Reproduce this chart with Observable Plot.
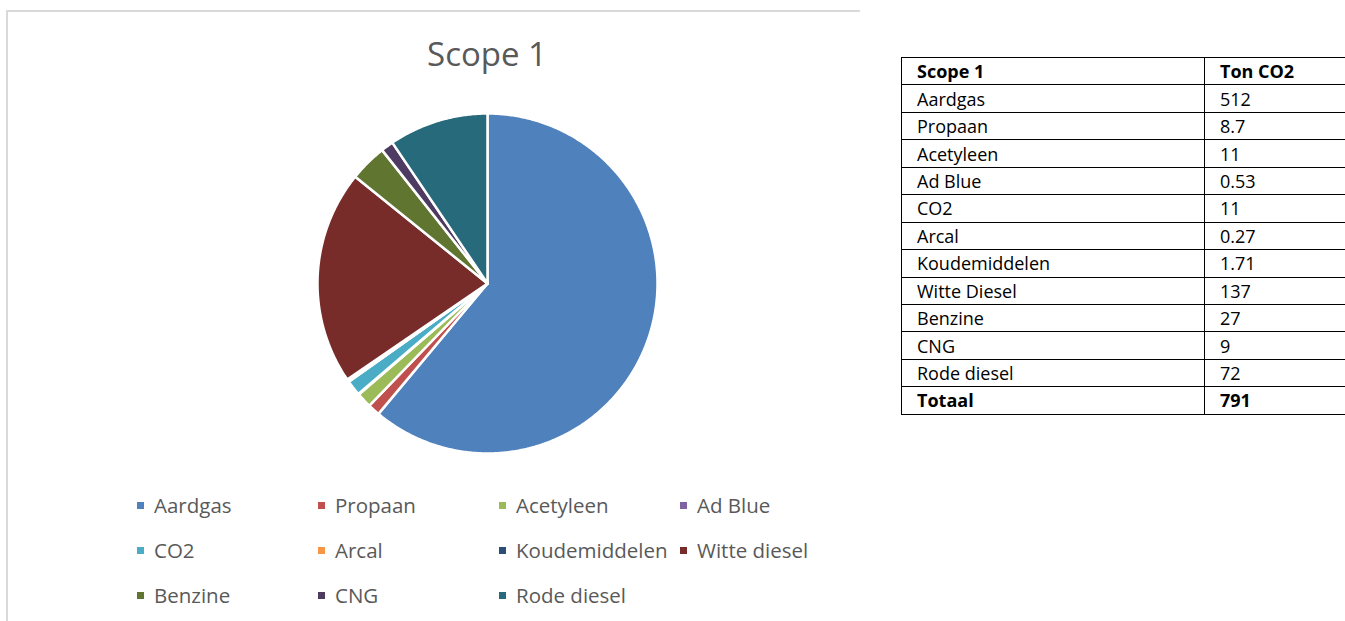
<!DOCTYPE html>
<html>
<head>
<meta charset="utf-8">
<script src="https://cdn.jsdelivr.net/npm/d3@7"></script>
<script src="https://cdn.jsdelivr.net/npm/@observablehq/plot@0.6"></script>
<style>
html, body { margin: 0; padding: 0; background: #fff; overflow: hidden; }
#page { position: relative; width: 1345px; height: 621px; overflow: hidden; font-family: "Open Sans", sans-serif; }
#frame { position: absolute; left: 6px; top: 10px; width: 852px; height: 640px; border-top: 2px solid #d9d9d9; border-left: 2px solid #d9d9d9; }
#title { position: absolute; left: 287px; width: 400px; top: 37px; text-align: center; font-size: 33px; line-height: 33px; color: #595959; }
#pie { position: absolute; left: 307px; top: 103px; }
.lg { position: absolute; font-size: 20.5px; line-height: 20.5px; color: #595959; white-space: nowrap; }
.sw { position: absolute; width: 7px; height: 7px; }
#tbl { position: absolute; left: 901px; top: 57px; width: 473px; border-collapse: collapse; font-size: 18px; color: #000; table-layout: fixed; }
#tbl td { border: 1.5px solid #000; height: 26.45px; padding: 0 0 0 15px; line-height: 18px; vertical-align: middle; white-space: nowrap; }
#tbl tr.b td { font-weight: bold; }
</style>
</head>
<body>
<div id="page">
  <div id="frame"></div>
  <div id="title">Scope 1</div>
  <div id="pie"></div>
  <div id="legend"></div>
  <table id="tbl"><colgroup><col style="width:303px"><col style="width:170px"></colgroup><tbody></tbody></table>
</div>
<script>
// Pie categories (legend labels) and colours
const categories = ["Aardgas", "Propaan", "Acetyleen", "Ad Blue", "CO2", "Arcal", "Koudemiddelen", "Witte diesel", "Benzine", "CNG", "Rode diesel"];
const colors = ["#4F81BD", "#C0504D", "#9BBB59", "#8064A2", "#4BACC6", "#F79646", "#2C4D75", "#772C2A", "#5F7530", "#4D3B62", "#276A7C"];
// Slice sizes (ton CO2, estimated)
const pieValues = [465, 8.7, 11, 0.53, 11, 0.27, 1.71, 155, 27, 9, 72];

// Table contents
const tableHeader = ["Scope 1", "Ton CO2"];
const tableLabels = ["Aardgas", "Propaan", "Acetyleen", "Ad Blue", "CO2", "Arcal", "Koudemiddelen", "Witte Diesel", "Benzine", "CNG", "Rode diesel"];
const tableValues = ["512", "8.7", "11", "0.53", "11", "0.27", "1.71", "137", "27", "9", "72"];
const tableTotal = ["Totaal", "791"];

// Build pie wedges
const arcs = d3.pie().sort(null).value(d => d.value)(categories.map((name, i) => ({name, value: pieValues[i]})));
const pts = [];
arcs.forEach(a => {
  const name = a.data.name;
  pts.push({name, x: 0, y: 0});
  const n = Math.max(2, Math.ceil((a.endAngle - a.startAngle) / (Math.PI / 360)));
  for (let j = 0; j <= n; j++) {
    const t = a.startAngle + (a.endAngle - a.startAngle) * j / n;
    pts.push({name, x: Math.sin(t), y: Math.cos(t)});
  }
  pts.push({name, x: 0, y: 0});
});

const chart = Plot.plot({
  width: 360,
  height: 360,
  margin: 10,
  x: {domain: [-1, 1], axis: null},
  y: {domain: [-1, 1], axis: null},
  color: {domain: categories, range: colors},
  marks: [
    Plot.line(pts, {x: "x", y: "y", z: "name", fill: "name", stroke: "white", strokeWidth: 2.5, strokeLinejoin: "round"})
  ]
});
document.getElementById("pie").appendChild(chart);

// Legend
const legend = document.getElementById("legend");
categories.forEach((name, i) => {
  const col = i % 4, row = Math.floor(i / 4);
  const cy = 505.5 + row * 45;
  const sw = document.createElement("div");
  sw.className = "sw";
  sw.style.left = (137 + col * 181) + "px";
  sw.style.top = (cy - 3.5) + "px";
  sw.style.background = colors[i];
  legend.appendChild(sw);
  const t = document.createElement("div");
  t.className = "lg";
  t.style.left = (154 + col * 181) + "px";
  t.style.top = (cy - 10.9) + "px";
  t.textContent = name;
  legend.appendChild(t);
});

// Table
const tbody = document.querySelector("#tbl tbody");
function addRow(cells, bold) {
  const tr = document.createElement("tr");
  if (bold) tr.className = "b";
  cells.forEach(c => { const td = document.createElement("td"); td.textContent = c; tr.appendChild(td); });
  tbody.appendChild(tr);
}
addRow(tableHeader, true);
tableLabels.forEach((l, i) => addRow([l, tableValues[i]], false));
addRow(tableTotal, true);
</script>
</body>
</html>
